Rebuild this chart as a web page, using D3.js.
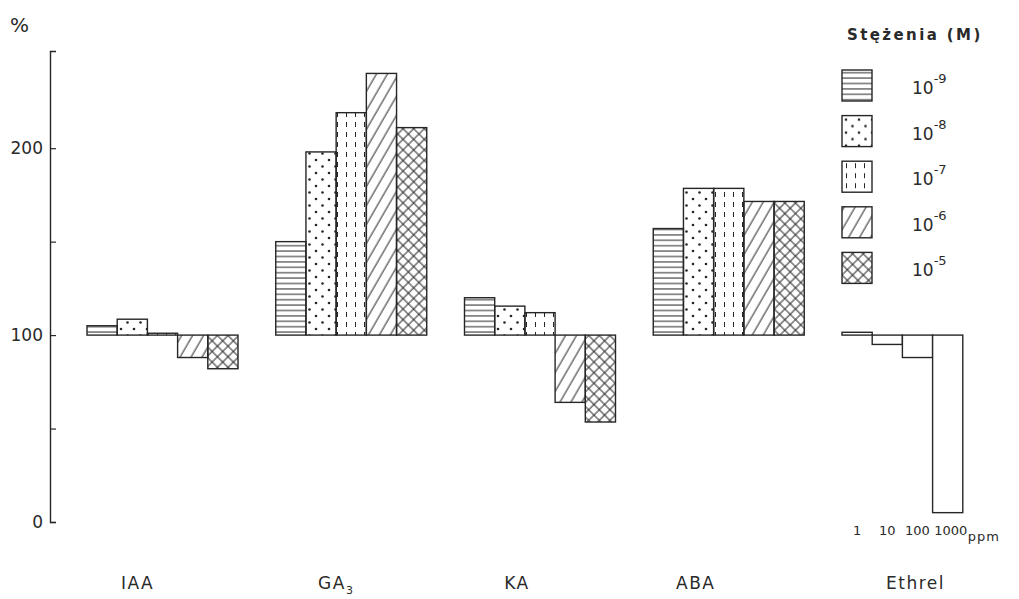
<!DOCTYPE html>
<html>
<head>
<meta charset="utf-8">
<script src="https://cdn.jsdelivr.net/npm/d3@7"></script>
<style>
  body { margin: 0; background: #fff; }
  svg text { font-family: "DejaVu Sans", sans-serif; fill: #2a2a2a; }
</style>
</head>
<body>
<svg id="chart" width="1019" height="599"></svg>
<script>
// groups and values (percent of control, 100 = control)
const groups = ["IAA", "GA3", "KA", "ABA", "Ethrel"];
const concentrations = ["-9", "-8", "-7", "-6", "-5"];
const iaaValues = [105, 108.5, 101, 88, 82];
const ga3Values = [150, 198, 219, 240, 211];
const kaValues = [120, 115.5, 112, 64, 53.5];
const abaValues = [157, 178.5, 178.5, 171.5, 171.5];
const ethrelValues = [101.5, 95, 88, 5];
const ethrelDoses = ["1", "10", "100", "1000"];
const yTicks = [0, 50, 100, 150, 200];

const seriesByGroup = [iaaValues, ga3Values, kaValues, abaValues, ethrelValues];
const patterns = ["hlines", "dots", "vdash", "diag", "cross"];
const labelNudge = [-25, -15, -23, -33, -2];

const ink = "#262626";
const svg = d3.select("#chart");

// --- fill patterns
const defs = svg.append("defs");

const pH = defs.append("pattern").attr("id", "hlines")
    .attr("patternUnits", "userSpaceOnUse").attr("width", 10).attr("height", 5.4);
pH.append("line").attr("x1", 0).attr("x2", 10).attr("y1", 2.7).attr("y2", 2.7)
    .attr("stroke", ink).attr("stroke-width", 1);

const pD = defs.append("pattern").attr("id", "dots")
    .attr("patternUnits", "userSpaceOnUse").attr("width", 13).attr("height", 13);
pD.append("circle").attr("cx", 4).attr("cy", 4).attr("r", 1.3).attr("fill", ink);
pD.append("circle").attr("cx", 10.5).attr("cy", 10.5).attr("r", 1.3).attr("fill", ink);

const pV = defs.append("pattern").attr("id", "vdash")
    .attr("patternUnits", "userSpaceOnUse").attr("width", 9).attr("height", 10);
pV.append("line").attr("x1", 4.5).attr("x2", 4.5).attr("y1", 2).attr("y2", 7)
    .attr("stroke", ink).attr("stroke-width", 1);

const pS = defs.append("pattern").attr("id", "diag")
    .attr("patternUnits", "userSpaceOnUse").attr("width", 9.5).attr("height", 10)
    .attr("patternTransform", "rotate(30)");
pS.append("line").attr("x1", 2).attr("x2", 2).attr("y1", 0).attr("y2", 10)
    .attr("stroke", ink).attr("stroke-width", 1);

const pC = defs.append("pattern").attr("id", "cross")
    .attr("patternUnits", "userSpaceOnUse").attr("width", 7.5).attr("height", 7.5)
    .attr("patternTransform", "rotate(45)");
pC.append("line").attr("x1", 1).attr("x2", 1).attr("y1", 0).attr("y2", 7.5)
    .attr("stroke", ink).attr("stroke-width", 1);
pC.append("line").attr("x1", 0).attr("x2", 7.5).attr("y1", 1).attr("y2", 1)
    .attr("stroke", ink).attr("stroke-width", 1);

// --- scales
const y = d3.scaleLinear().domain([0, 252]).range([522, 51]);
const x0 = d3.scaleBand().domain(groups).range([87, 993]).paddingInner(0.2).paddingOuter(0);
const x1 = d3.scaleBand().domain(d3.range(5)).range([0, x0.bandwidth()]);

// --- axis
const yAxis = svg.append("g")
    .attr("transform", "translate(50,0)")
    .call(d3.axisLeft(y)
        .tickValues(yTicks)
        .tickSizeInner(-6)
        .tickSizeOuter(-6)
        .tickPadding(7)
        .tickFormat(d => d % 100 === 0 ? d : ""));
yAxis.select(".domain").attr("stroke", ink).attr("stroke-width", 1.4);
yAxis.selectAll(".tick line").attr("stroke", ink).attr("stroke-width", 1.2);
yAxis.selectAll(".tick text")
    .style("font-family", "DejaVu Sans")
    .style("font-size", "17px")
    .attr("fill", "#2a2a2a");

svg.append("text").attr("x", 10).attr("y", 32)
    .style("font-size", "20px")
    .text("%");

// --- bars
groups.forEach((g, gi) => {
    const vals = seriesByGroup[gi];
    const isEthrel = g === "Ethrel";
    svg.append("g").selectAll("rect")
        .data(vals)
        .enter()
        .append("rect")
        .attr("x", (d, i) => x0(g) + x1(i))
        .attr("y", d => y(Math.max(d, 100)))
        .attr("width", x1.bandwidth())
        .attr("height", d => Math.abs(y(d) - y(100)))
        .attr("fill", (d, i) => isEthrel ? "#fff" : `url(#${patterns[i]})`)
        .attr("stroke", ink)
        .attr("stroke-width", 1.4);
});

// ethrel dose labels
svg.append("g").selectAll("text")
    .data(ethrelDoses)
    .enter()
    .append("text")
    .attr("x", (d, i) => x0("Ethrel") + x1(i) + x1.bandwidth() / 2 + (i === 3 ? 3 : 0))
    .attr("y", 535)
    .attr("text-anchor", "middle")
    .style("font-size", "13px")
    .text(d => d);
svg.append("text")
    .attr("x", x0("Ethrel") + x1(4) + 5)
    .attr("y", 541)
    .style("font-size", "13px")
    .style("letter-spacing", "1px")
    .text("ppm");

// group labels
const glab = svg.append("g").selectAll("text")
    .data(groups)
    .enter()
    .append("text")
    .attr("x", (d, i) => x0(d) + x0.bandwidth() / 2 + labelNudge[i])
    .attr("y", 589)
    .attr("text-anchor", "middle")
    .style("font-size", "17px")
    .style("letter-spacing", "1.5px");
glab.each(function (d) {
    const t = d3.select(this);
    if (d === "GA3") {
        t.append("tspan").text("GA");
        t.append("tspan").attr("dy", 5).style("font-size", "11px").text("3");
    } else {
        t.text(d);
    }
});

// --- legend
const legY = d3.scaleBand().domain(d3.range(5)).range([63, 291]);
svg.append("text").attr("x", 847).attr("y", 40)
    .style("font-size", "15px")
    .style("font-weight", "bold")
    .style("letter-spacing", "2.4px")
    .text("Stężenia (M)");

const leg = svg.append("g").selectAll("g")
    .data(concentrations)
    .enter()
    .append("g")
    .attr("transform", (d, i) => `translate(842,${legY(i) + 7})`);
leg.append("rect")
    .attr("width", 30).attr("height", 31)
    .attr("fill", (d, i) => `url(#${patterns[i]})`)
    .attr("stroke", ink).attr("stroke-width", 1.4);
const legText = leg.append("text").attr("x", 70).attr("y", 24)
    .style("font-size", "17px");
legText.append("tspan").text("10");
legText.append("tspan").attr("dy", -11).style("font-size", "13px").text(d => d);
</script>
</body>
</html>
